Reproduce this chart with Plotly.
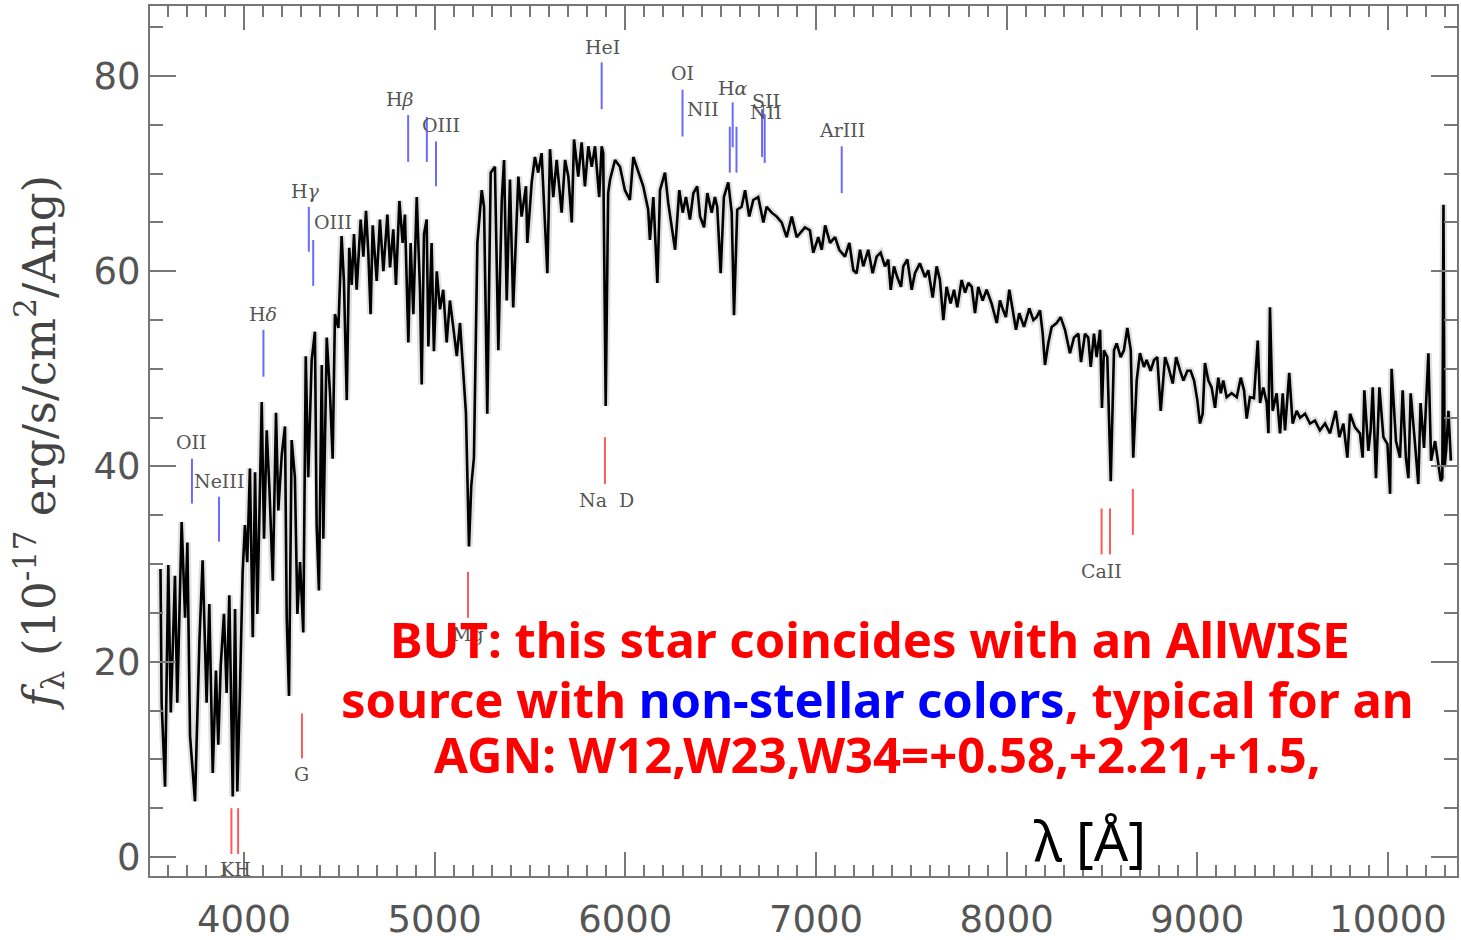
import plotly.graph_objects as go

# ---------------- data ----------------
wave = [3562, 3568, 3586, 3603, 3616, 3638, 3650, 3673, 3691, 3703, 3717, 3743, 3766, 3783, 3804, 3818,
        3836, 3853, 3865, 3878, 3895, 3909, 3923, 3941, 3953, 3965, 3979, 3993, 4005, 4017, 4031, 4046,
        4058, 4070, 4093, 4105, 4119, 4133, 4151, 4168, 4180, 4198, 4215, 4224, 4236, 4250, 4267, 4280,
        4294, 4311, 4324, 4337, 4355, 4372, 4381, 4393, 4408, 4416, 4434, 4451, 4465, 4477, 4495, 4512,
        4524, 4539, 4552, 4565, 4577, 4591, 4612, 4626, 4640, 4652, 4664, 4675, 4696, 4713, 4731, 4752,
        4766, 4783, 4797, 4815, 4832, 4844, 4862, 4874, 4888, 4906, 4923, 4932, 4944, 4958, 4967, 4984,
        4996, 5011, 5028, 5045, 5063, 5080, 5098, 5116, 5133, 5150, 5164, 5180, 5192, 5206, 5224, 5247,
        5259, 5276, 5294, 5316, 5334, 5352, 5364, 5378, 5395, 5412, 5439, 5456, 5479, 5486, 5509, 5526,
        5543, 5561, 5579, 5591, 5605, 5622, 5640, 5666, 5684, 5701, 5719, 5731, 5753, 5771, 5788, 5806,
        5824, 5841, 5863, 5876, 5884, 5897, 5910, 5920, 5946, 5972, 5998, 6024, 6042, 6068, 6094, 6120,
        6129, 6147, 6168, 6182, 6208, 6225, 6243, 6261, 6283, 6301, 6318, 6339, 6357, 6377, 6392, 6413,
        6430, 6453, 6470, 6482, 6500, 6517, 6540, 6558, 6570, 6587, 6610, 6628, 6650, 6671, 6697, 6724,
        6741, 6768, 6794, 6820, 6846, 6873, 6899, 6916, 6942, 6968, 6986, 7012, 7030, 7048, 7074, 7100,
        7122, 7152, 7175, 7196, 7213, 7231, 7248, 7274, 7297, 7318, 7339, 7362, 7379, 7392, 7409, 7426,
        7446, 7458, 7479, 7502, 7519, 7545, 7572, 7589, 7612, 7633, 7650, 7668, 7685, 7706, 7724, 7741,
        7764, 7782, 7799, 7817, 7834, 7851, 7874, 7895, 7921, 7948, 7965, 7982, 7996, 8014, 8032, 8049,
        8066, 8091, 8119, 8140, 8157, 8175, 8189, 8201, 8218, 8236, 8262, 8283, 8306, 8332, 8353, 8376,
        8390, 8411, 8428, 8441, 8458, 8472, 8490, 8500, 8510, 8528, 8546, 8563, 8577, 8598, 8615, 8633,
        8651, 8664, 8682, 8699, 8720, 8734, 8755, 8773, 8790, 8808, 8831, 8848, 8871, 8889, 8910, 8927,
        8948, 8965, 8983, 9000, 9014, 9028, 9040, 9058, 9075, 9093, 9110, 9123, 9136, 9154, 9180, 9207,
        9228, 9245, 9259, 9276, 9297, 9317, 9329, 9346, 9364, 9373, 9381, 9395, 9416, 9434, 9448, 9460,
        9482, 9500, 9521, 9539, 9565, 9591, 9617, 9643, 9670, 9696, 9726, 9745, 9766, 9787, 9801, 9827,
        9853, 9867, 9876, 9897, 9909, 9920, 9937, 9955, 9976, 9997, 10011, 10019, 10042, 10063, 10077, 10094,
        10107, 10119, 10142, 10159, 10171, 10189, 10212, 10226, 10247, 10264, 10277, 10285, 10291, 10297, 10305, 10317,
        10330]
flux = [29.5, 15.8, 7.2, 29.9, 14.8, 28.8, 15.8, 34.3, 24.5, 32.2, 12.4, 5.7, 22.0, 30.4, 15.8, 25.9,
        8.6, 19.1, 11.5, 19.6, 24.9, 16.8, 26.8, 6.2, 25.4, 6.7, 17.3, 29.2, 34.0, 30.2, 39.8, 22.5,
        39.4, 24.9, 46.6, 32.6, 43.7, 37.9, 28.3, 45.5, 35.5, 41.2, 44.1, 24.5, 16.5, 42.7, 38.9, 24.9,
        30.2, 23.0, 51.3, 38.9, 50.9, 53.8, 34.0, 27.3, 50.4, 32.6, 53.2, 47.5, 40.8, 55.6, 54.2, 63.6,
        59.0, 46.8, 62.4, 58.6, 63.8, 58.1, 65.3, 61.5, 66.2, 61.9, 55.6, 64.7, 59.0, 65.3, 60.0, 65.8,
        60.4, 64.3, 58.6, 67.2, 62.9, 65.8, 52.7, 62.9, 55.6, 67.6, 58.1, 48.4, 63.8, 65.3, 52.3, 62.9,
        51.8, 60.0, 56.1, 58.1, 52.7, 57.0, 54.2, 51.3, 54.7, 49.4, 45.5, 31.8, 38.0, 40.9, 62.9, 68.3,
        66.6, 45.4, 70.1, 70.7, 51.9, 67.3, 71.4, 57.0, 69.4, 56.3, 69.7, 65.6, 68.7, 62.9, 69.1, 71.7,
        70.1, 72.1, 63.9, 59.8, 72.5, 67.6, 71.4, 66.0, 71.4, 69.7, 65.0, 73.5, 69.7, 73.2, 68.7, 72.8,
        70.7, 72.8, 67.6, 72.8, 72.1, 46.2, 68.0, 69.4, 71.4, 70.7, 68.3, 67.3, 71.7, 70.1, 68.7, 66.3,
        63.2, 67.6, 58.8, 68.3, 70.1, 67.0, 64.5, 62.2, 68.3, 66.0, 67.6, 65.3, 68.0, 68.7, 65.6, 64.5,
        68.0, 66.0, 67.6, 66.6, 59.8, 67.6, 69.1, 66.0, 55.5, 66.3, 66.6, 68.3, 65.6, 67.3, 67.6, 65.0,
        66.6, 66.0, 65.6, 65.0, 63.5, 65.6, 63.5, 63.9, 64.5, 64.2, 61.9, 63.5, 62.2, 64.7, 62.9, 63.5,
        62.2, 61.5, 62.9, 60.1, 59.8, 62.2, 60.5, 62.2, 59.8, 61.5, 61.9, 60.5, 61.2, 58.1, 60.5, 59.4,
        58.4, 60.5, 61.2, 58.1, 59.8, 60.8, 59.4, 60.1, 57.3, 60.5, 59.1, 55.0, 58.4, 56.7, 58.1, 56.3,
        59.1, 57.8, 58.8, 58.4, 55.7, 58.4, 57.0, 58.1, 56.7, 54.7, 57.0, 56.0, 55.3, 58.1, 56.0, 54.0,
        55.7, 54.3, 56.2, 55.0, 55.3, 56.0, 53.6, 50.4, 52.6, 54.3, 54.7, 55.3, 54.0, 51.6, 53.2, 53.6,
        50.7, 53.6, 53.2, 50.2, 53.6, 51.2, 54.0, 46.0, 51.9, 51.2, 38.5, 51.9, 52.6, 51.2, 51.9, 54.2,
        51.9, 40.9, 48.8, 51.6, 50.2, 50.9, 49.8, 50.9, 51.2, 45.7, 51.2, 50.2, 48.5, 51.2, 49.8, 48.8,
        49.8, 49.8, 48.8, 46.8, 44.4, 45.4, 50.6, 48.8, 48.1, 46.0, 49.1, 47.5, 48.8, 47.1, 47.5, 47.1,
        49.1, 47.8, 44.9, 47.1, 47.0, 52.9, 46.5, 48.1, 46.5, 43.4, 56.3, 45.7, 47.5, 43.4, 47.5, 43.7,
        49.6, 44.4, 45.7, 45.0, 45.4, 44.4, 44.7, 43.7, 44.4, 43.4, 45.7, 43.0, 44.4, 40.9, 45.4, 44.0,
        43.4, 40.9, 47.8, 41.6, 43.7, 48.1, 38.8, 48.1, 43.0, 42.3, 37.2, 50.0, 42.6, 40.9, 47.8, 40.9,
        38.8, 47.5, 42.3, 38.2, 46.5, 41.9, 51.6, 40.6, 42.6, 40.3, 38.5, 38.8, 66.8, 40.0, 41.6, 45.7,
        40.6]

# emission lines (blue markers)
em_wave = [3727, 3869, 4102, 4340, 4363, 4861, 4959, 5007, 5876, 6300, 6548, 6563, 6583, 6717, 6731, 7135]
em_top = [40.8, 36.9, 54.0, 66.6, 63.2, 76.0, 75.8, 73.3, 81.4, 78.6, 74.8, 77.3, 74.8, 76.6, 76.1, 72.8]
em_bot = [36.2, 32.3, 49.2, 62.0, 58.5, 71.2, 71.2, 68.7, 76.6, 73.8, 70.1, 72.7, 70.1, 71.7, 71.1, 68.0]
em_labels = ["OII", "NeIII", "H<i>δ</i>", "H<i>γ</i>", "OIII", "H<i>β</i>", "OIII", "HeI", "OI",
             "NII", "H<i>α</i>", "SII", "NII", "ArIII"]
em_label_x = [3727, 3869, 4102, 4320, 4467, 4818, 5033, 5878, 6302, 6407, 6565, 6738, 6738, 7136]
em_label_y = [42.5, 38.5, 55.6, 68.2, 65.0, 77.6, 75.0, 83.0, 80.3, 76.6, 78.8, 77.4, 76.3, 74.5]

# absorption lines (red markers)
ab_wave = [3934, 3969, 4304, 5175, 5893, 8498, 8542, 8662]
ab_top = [5.0, 5.0, 14.7, 29.2, 43.0, 35.7, 35.7, 37.7]
ab_bot = [0.3, 0.3, 10.1, 24.5, 38.2, 31.0, 31.0, 33.0]
ab_labels = ["KH", "G", "Mg", "Na  D", "CaII"]
ab_label_x = [3958, 4304, 5175, 5899, 8495]
ab_label_y = [-1.2, 8.5, 22.8, 36.6, 29.3]

x_ticks = [4000, 5000, 6000, 7000, 8000, 9000, 10000]
x_ticktext = ["4000", "5000", "6000", "7000", "8000", "9000", "10000"]
y_ticks = [0, 20, 40, 60, 80]

note_lines = [
    "BUT: this star coincides with an AllWISE",
    "source with <span style='color:#0000ff'>non-stellar colors</span>, typical for an",
    "AGN: W12,W23,W34=+0.58,+2.21,+1.5,",
]
note_x = [7283, 7320, 7320]
note_y = [22.3, 16.2, 10.5]

# ---------------- figure ----------------
fig = go.Figure()

# faint error halo
fig.add_trace(go.Scatter(x=wave, y=flux, mode="lines",
                         line=dict(color="rgba(0,0,0,0.12)", width=7), hoverinfo="skip"))
fig.add_trace(go.Scatter(x=wave, y=flux, mode="lines",
                         line=dict(color="black", width=2.6)))

shapes = []
for w, t, b in zip(em_wave, em_top, em_bot):
    shapes.append(dict(type="line", xref="x", yref="y", x0=w, x1=w, y0=b, y1=t,
                       line=dict(color="#6a6aff", width=2)))
for w, t, b in zip(ab_wave, ab_top, ab_bot):
    shapes.append(dict(type="line", xref="x", yref="y", x0=w, x1=w, y0=b, y1=t,
                       line=dict(color="#ff5a5a", width=2)))

annotations = []
lab_font = dict(family="DejaVu Serif", size=19, color="#555555")
for txt, x, y in zip(em_labels, em_label_x, em_label_y):
    annotations.append(dict(x=x, y=y, xref="x", yref="y", text=txt, showarrow=False,
                            font=lab_font, xanchor="center", yanchor="middle"))
for txt, x, y in zip(ab_labels, ab_label_x, ab_label_y):
    annotations.append(dict(x=x, y=y, xref="x", yref="y", text=txt, showarrow=False,
                            font=lab_font, xanchor="center", yanchor="middle"))

note_font = dict(family="Noto Sans", size=49, color="#ff0000", weight="bold")
for txt, x, y in zip(note_lines, note_x, note_y):
    annotations.append(dict(x=x, y=y, xref="x", yref="y", text=txt, showarrow=False,
                            font=note_font, xanchor="center", yanchor="middle"))

annotations.append(dict(x=8437, y=1.7, xref="x", yref="y", text="λ [Å]", showarrow=False,
                        font=dict(family="Noto Sans", size=54, color="black"),
                        xanchor="center", yanchor="middle"))

axis_common = dict(showgrid=False, zeroline=False, showline=True, linecolor="#777777",
                   linewidth=2, mirror="ticks", ticks="inside", tickcolor="#777777",
                   tickwidth=1.5, automargin=False,
                   tickfont=dict(family="DejaVu Sans", size=37, color="#555555"))

fig.update_layout(
    width=1461, height=940,
    margin=dict(l=150, r=4, t=6, b=64),
    paper_bgcolor="white", plot_bgcolor="white",
    showlegend=False,
    shapes=shapes,
    annotations=annotations,
    xaxis=dict(range=[3507, 10362], tickvals=x_ticks, ticktext=x_ticktext, ticklen=24,
               ticklabelstandoff=10,
               minor=dict(dtick=100, tick0=0, ticklen=11, ticks="inside", tickcolor="#777777"),
               **axis_common),
    yaxis=dict(range=[-1.95, 87.17], tickvals=y_ticks, ticklen=26,
               minor=dict(dtick=5, tick0=0, ticklen=13, ticks="inside", tickcolor="#777777"),
               title=dict(text="<i>f</i><sub>λ</sub> (10<sup>-17</sup> erg/s/cm<sup>2</sup>/Ang)",
                          font=dict(family="DejaVu Serif", size=45, color="#444444"),
                          standoff=24),
               **axis_common),
)

fig.write_html("out.html")
